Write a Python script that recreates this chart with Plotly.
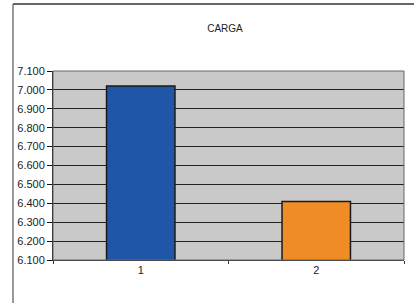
import plotly.graph_objects as go

categories = ["1", "2"]
values = [7.02, 6.41]
bar_colors = ["#1f56a8", "#f08c25"]
title_text = "CARGA"
y_ticks = [6.1, 6.2, 6.3, 6.4, 6.5, 6.6, 6.7, 6.8, 6.9, 7.0, 7.1]
y_tick_labels = ["6.100", "6.200", "6.300", "6.400", "6.500", "6.600",
                 "6.700", "6.800", "6.900", "7.000", "7.100"]

W, H = 414, 303
L, R, T, B = 53, 10, 71, 43
pw, ph = W - L - R, H - T - B

def px(x):
    return (x - L) / pw

def py(y):
    return 1 - (y - T) / ph

fig = go.Figure()
fig.add_trace(go.Bar(
    x=categories, y=values,
    marker=dict(color=bar_colors, line=dict(color="#1a1a1a", width=1.5)),
    width=0.39,
))

fig.update_layout(
    width=W, height=H,
    margin=dict(l=L, r=R, t=T, b=B),
    paper_bgcolor="white",
    plot_bgcolor="#c9c9c9",
    showlegend=False,
    font=dict(family="Liberation Sans, Arial, sans-serif", size=10, color="#222"),
    title=dict(text=title_text, x=(225 / W), xanchor="center", y=1 - 28 / H, yanchor="middle",
               font=dict(size=10, color="#222")),
    xaxis=dict(
        type="category", showgrid=False, showline=True, linecolor="#333", linewidth=1,
        mirror=False, ticks="outside", ticklen=3, tickcolor="#333", tickson="boundaries",
        tickfont=dict(size=11), zeroline=False, automargin=False,
    ),
    yaxis=dict(
        range=[6.1, 7.1], tickvals=y_ticks, ticktext=y_tick_labels,
        showgrid=True, gridcolor="#222", gridwidth=1.2,
        showline=True, linecolor="#111", linewidth=1,
        ticks="outside", ticklen=5, tickcolor="#111",
        tickfont=dict(size=11), zeroline=False, automargin=False,
    ),
    shapes=[
        dict(type="rect", xref="paper", yref="paper", x0=0, x1=1, y0=0, y1=1,
             line=dict(color="#666", width=1), fillcolor="rgba(0,0,0,0)", layer="above"),
        dict(type="line", xref="paper", yref="paper", x0=px(13), x1=px(W + 5), y0=py(4), y1=py(4),
             line=dict(color="#333", width=1.5)),
        dict(type="line", xref="paper", yref="paper", x0=px(13), x1=px(13), y0=py(4), y1=py(H + 5),
             line=dict(color="#555", width=1.2)),
    ],
)

fig.write_html("out.html", config={"displayModeBar": False},
               post_script="document.body.style.margin='0';")
